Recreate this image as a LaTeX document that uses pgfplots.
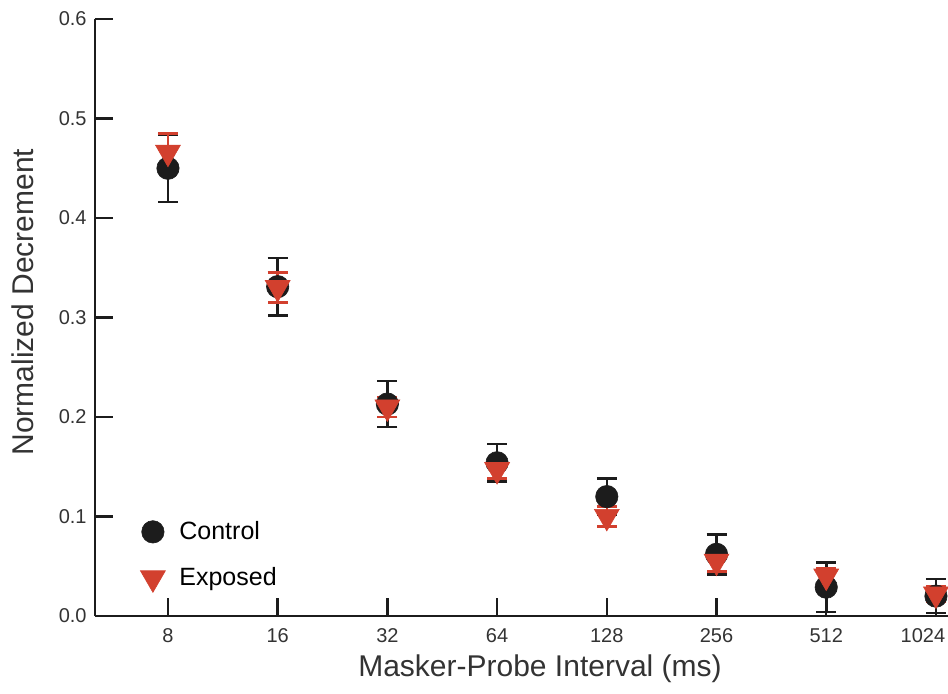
\documentclass[border=0pt]{standalone}
\usepackage{pgfplots}
\usepackage{pgfplotstable}
\pgfplotsset{compat=1.18}
\usepackage{fontspec}
\setmainfont{Liberation Sans}

\definecolor{ctrlblack}{RGB}{28,28,28}
\definecolor{expred}{RGB}{210,64,46}

% mean normalized decrement and error, one row per masker-probe interval
% idx: 0=8, 1=16, 2=32, 3=64, 4=128, 5=256, 6=512, 7=1024 ms
\pgfplotstableread{
idx mean err
0 0.450 0.034
1 0.331 0.029
2 0.213 0.023
3 0.154 0.019
4 0.120 0.018
5 0.062 0.020
6 0.029 0.025
7 0.020 0.017
}\controldata

\pgfplotstableread{
idx mean err
0 0.466 0.019
1 0.330 0.015
2 0.210 0.010
3 0.147 0.009
4 0.100 0.010
5 0.055 0.010
6 0.040 0.008
7 0.022 0.008
}\exposeddata

\begin{document}
\begin{tikzpicture}
\begin{axis}[
  scale only axis,
  width=426.5pt, height=298.5pt,
  xmin=-0.665, xmax=7.11,
  ymin=0, ymax=0.6,
  axis x line=bottom, axis y line=left,
  axis line style={-, line width=1.2pt, ctrlblack},
  tick style={line width=1.2pt, ctrlblack},
  tick align=inside,
  major tick length=9pt,
  xtick={0,1,2,3,4,5,6,7},
  % the last label is pulled left so that it stays inside the frame
  xticklabels={8,16,32,64,128,256,512,\makebox[0pt]{1024\hspace{13pt}}},
  ytick={0,0.1,0.2,0.3,0.4,0.5,0.6},
  yticklabels={0.0,0.1,0.2,0.3,0.4,0.5,0.6},
  tick label style={font=\fontsize{10}{12}\selectfont, text=ctrlblack!90},
  yticklabel style={anchor=east, inner sep=0pt, xshift=-4pt},
  xticklabel style={anchor=north, inner sep=0pt, yshift=-6pt},
  label style={font=\fontsize{15}{18}\selectfont, text=ctrlblack!90},
  xlabel={Masker-Probe Interval (ms)},
  ylabel={Normalized Decrement},
  xlabel style={at={(axis description cs:0.5217,-0.102)}, anchor=base},
  ylabel style={at={(axis description cs:-0.085,0.526)}, anchor=center},
  legend style={at={(axis description cs:0.0528,0.166)}, anchor=north west,
    draw=none, fill=none, inner sep=0pt,
    font=\fontsize{12.5}{15}\selectfont, row sep=8.5pt,
    /tikz/every odd column/.append style={column sep=5pt}},
  legend cell align=left,
]
\addplot[only marks, mark=*, mark size=5.6pt,
  mark options={fill=ctrlblack, draw=ctrlblack, line width=0.3pt},
  error bars/.cd, y dir=both, y explicit,
  error bar style={line width=1.3pt, ctrlblack},
  error mark options={rotate=90, mark size=5pt, line width=1.3pt, ctrlblack}]
  table[x=idx, y=mean, y error=err] {\controldata};
\addlegendentry{Control}

\addplot[only marks, mark=triangle*, mark size=7.2pt,
  mark options={rotate=180, fill=expred, draw=expred, line width=0.3pt},
  error bars/.cd, y dir=both, y explicit,
  error bar style={line width=1.3pt, expred},
  error mark options={rotate=90, mark size=5pt, line width=1.3pt, expred}]
  table[x=idx, y=mean, y error=err] {\exposeddata};
\addlegendentry{Exposed}
\end{axis}
\pgfresetboundingbox
\useasboundingbox (-47.5pt,-38.5pt) rectangle (426.5pt,308pt);
\end{tikzpicture}
\end{document}
